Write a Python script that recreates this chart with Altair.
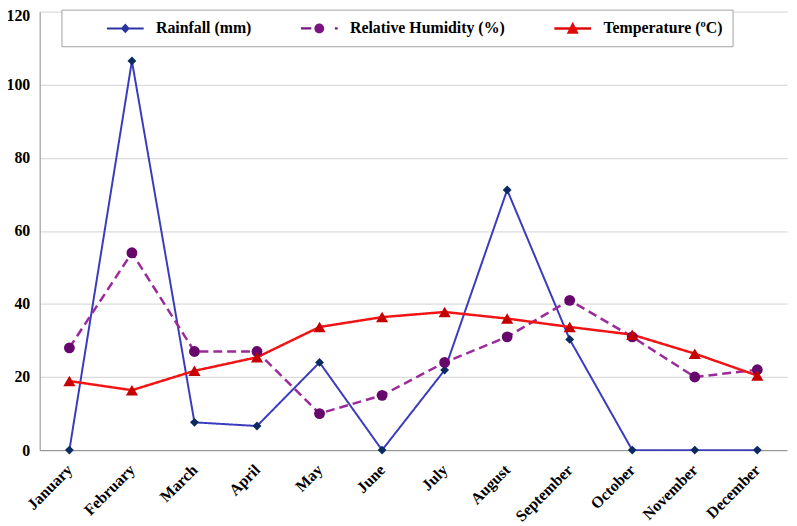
import altair as alt
import pandas as pd

months = ["January", "February", "March", "April", "May", "June", "July",
          "August", "September", "October", "November", "December"]
rainfall = [0, 106.5, 7.6, 6.6, 24, 0, 21.9, 71.2, 30.3, 0, 0, 0]
humidity = [28, 54, 27, 27, 10, 15, 24, 31, 41, 31, 20, 22]
temperature = [18.9, 16.4, 21.7, 25.4, 33.7, 36.4, 37.8, 36.0, 33.7, 31.6, 26.4, 20.4]

series = ["Rainfall (mm)", "Relative Humidity (%)", "Temperature (ºC)"]
line_colors = ["#3b3bbd", "#9b2a9b", "#f21414"]
marker_colors = ["#0b2a60", "#66086b", "#c40000"]
legend_colors = ["#2a34a0", "#7a1580", "#e00a0a"]
marker_shapes = ["diamond", "circle", "triangle-up"]
marker_sizes = [80, 120, 150]
line_widths = [2, 2.5, 2.5]
line_dashes = [[1, 0], [9, 5], [1, 0]]
legend_paths = [
    "M-2.06,-0.11H2.06V0.11H-2.06Z M0,-0.55L0.5,0L0,0.55L-0.5,0Z",
    "M-2.06,-0.13H-0.9V0.13H-2.06Z M1.75,-0.13H2.06V0.13H1.75Z "
    "M-0.55,0A0.55,0.55 0 1,0 0.55,0A0.55,0.55 0 1,0 -0.55,0Z",
    "M-2.06,-0.14H2.06V0.14H-2.06Z M0,-0.74L0.67,0.59L-0.67,0.59Z",
]

rows = []
for name, vals in zip(series, [rainfall, humidity, temperature]):
    for m, v in zip(months, vals):
        rows.append({"month": m, "series": name, "value": v})
df = pd.DataFrame(rows)

font = "Liberation Serif"

x_enc = alt.X("month:N", sort=months, title=None,
              scale=alt.Scale(type="point", padding=0.475),
              axis=alt.Axis(labelAngle=-45, labelAlign="right", labelBaseline="middle",
                            labelPadding=17, ticks=False, grid=False, domainColor="#8c8c8c",
                            labelFont=font, labelFontWeight="bold", labelFontSize=16,
                            labelColor="black"))
y_enc = alt.Y("value:Q", title=None,
              scale=alt.Scale(domain=[0, 120], nice=False, zero=True),
              axis=alt.Axis(values=[0, 20, 40, 60, 80, 100, 120], ticks=False,
                            gridColor="#dcdcdc", gridWidth=1.2, domainColor="#8c8c8c",
                            labelFont=font, labelFontWeight="bold", labelFontSize=16,
                            labelColor="black", labelPadding=10,
                            labelOffset={"condition": {"test": "datum.value == 120", "value": 4},
                                         "value": 0}))

base = alt.Chart(df)

line_layers = []
point_layers = []
for name, lc, lw, ld, mc, shp, sz in zip(series, line_colors, line_widths, line_dashes,
                                         marker_colors, marker_shapes, marker_sizes):
    sub = base.transform_filter(alt.datum.series == name)
    line_layers.append(
        sub.mark_line(color=lc, strokeWidth=lw, strokeDash=ld).encode(x=x_enc, y=y_enc)
    )
    point_layers.append(
        sub.mark_point(filled=True, opacity=1, color=mc, shape=shp, size=sz).encode(x=x_enc, y=y_enc)
    )

legend_def = alt.Legend(
    title="\u00a0", titleOrient="left", titlePadding=36,
    orient="none", legendX=22, legendY=-2, direction="horizontal", columns=3,
    fillColor="white", strokeColor="#a0a0a0", padding=10,
    symbolSize=324, symbolOffset=9.5, symbolStrokeWidth=0, symbolOpacity=1,
    labelOffset=22, columnPadding=49,
    labelExpr=("datum.value == '" + series[2] + "' ? datum.label + "
               "'\u00a0\u00a0\u00a0\u00a0\u00a0\u00a0' : datum.label"),
    labelFont=font, labelFontWeight="bold", labelFontSize=16,
    labelColor="black", labelLimit=400,
)

legend_layer = base.mark_point(filled=True, opacity=0).encode(
    x=x_enc, y=y_enc,
    color=alt.Color("series:N", scale=alt.Scale(domain=series, range=legend_colors), legend=legend_def),
    shape=alt.Shape("series:N", scale=alt.Scale(domain=series, range=legend_paths), legend=legend_def),
)

chart = alt.layer(*line_layers, *point_layers, legend_layer).properties(
    width=755, height=443,
    autosize=alt.AutoSizeParams(type="none"),
    padding={"left": 32, "top": 1, "right": 2, "bottom": 74},
).configure(font=font).configure_legend(
    labelFont=font, labelFontWeight="bold", labelFontSize=16, labelColor="black"
).configure_view(stroke=None)

chart.save("out.html", embed_options={"renderer": "svg", "actions": False})
